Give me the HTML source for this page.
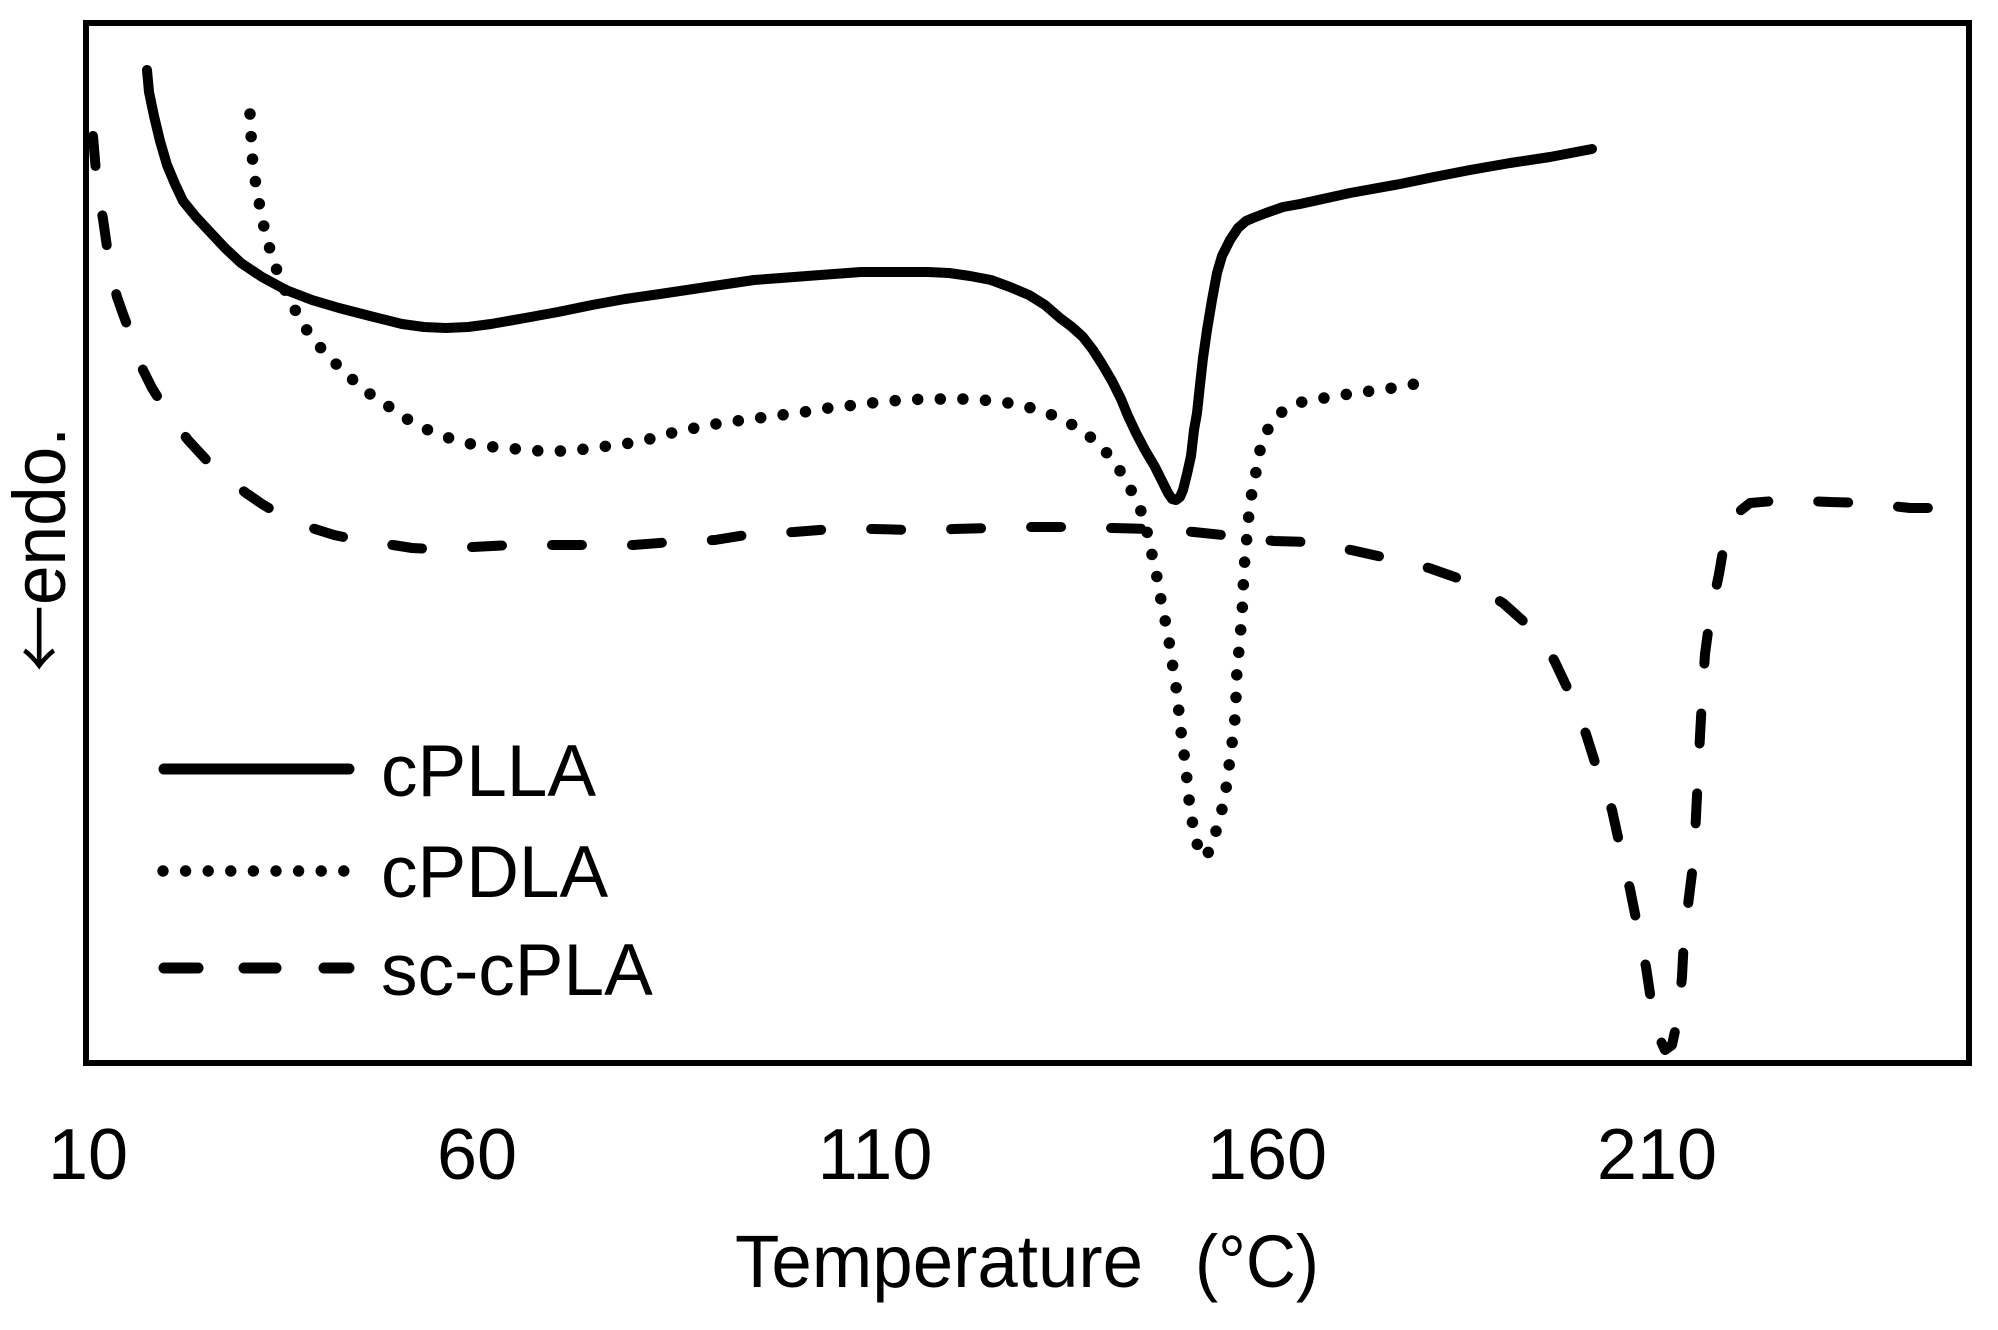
<!DOCTYPE html>
<html>
<head>
<meta charset="utf-8">
<style>
html,body{margin:0;padding:0;background:#fff;}
svg{display:block;}
text{font-family:"Liberation Sans","Noto Sans CJK JP",sans-serif;fill:#000;}
</style>
</head>
<body>
<svg width="1998" height="1330" viewBox="0 0 1998 1330" xmlns="http://www.w3.org/2000/svg">
<rect x="0" y="0" width="1998" height="1330" fill="#fff"/>
<!-- plot box -->
<rect x="86" y="23" width="1883" height="1040" fill="none" stroke="#000" stroke-width="6"/>

<!-- cPLLA solid -->
<polyline fill="none" stroke="#000" stroke-width="10" stroke-linecap="round" stroke-linejoin="round"
points="147,70 149,92 154,116 160,141 167,165 175,184 183,201 196,217 210,232 225,248 241,263 262,277 286,290 312,300 339,308 370,316 402,324 424,327 446,328 468,327 491,324 525,318 558,312 592,305 625,299 660,294 700,288 727,284 754,280 781,278 807,276 834,274 861,272 884,272 907,272 928,272 949,273 970,276 991,280 1010,287 1029,295 1045,305 1060,318 1072,327 1083,337 1093,350 1102,364 1112,381 1121,399 1128,416 1136,433 1145,450 1155,467 1162,481 1168,493 1172,499 1176,500 1180,497 1183,490 1187,474 1191,456 1194,430 1197,413 1200,385 1203,358 1207,330 1212,300 1217,273 1222,256 1230,240 1238,228 1246,221 1253,218 1266,213 1283,207 1300,204 1350,193 1400,184 1434,177 1470,170 1510,163 1550,157 1592,149"/>

<!-- cPDLA dotted -->
<polyline fill="none" stroke="#000" stroke-width="11.5" stroke-linecap="round" stroke-linejoin="round" stroke-dasharray="0 22.6"
points="250,114 251,134 252,155 255,179 259,202 263,223 269,246 276,268 284,288 294,308 306,329 320,347 336,364 352,379 370,394 388,406 407,419 428,430 449,438 471,444 494,447 517,449 540,451 563,451 586,449 608,446 631,443 654,438 675,432 700,427 721,423 744,420 766,417 789,414 811,411 834,407 857,405 879,402 903,400 926,399 948,399 971,399 994,401 1016,404 1039,410 1060,418 1080,429 1098,443 1113,460 1126,480 1136,500 1145,520 1149,543 1155,566 1159,589 1163,611 1168,633 1171,656 1175,679 1178,702 1180,724 1183,746 1186,769 1188,792 1191,814 1195,837 1199,850 1203,858 1208,853 1213,841 1220,818 1225,796 1228,774 1231,751 1234,729 1236,706 1236,684 1238,661 1240,638 1242,615 1243,592 1244,569 1246,547 1248,524 1250,502 1255,479 1258,457 1265,434 1277,415 1297,403 1318,399 1342,395 1363,392 1387,389 1408,385 1431,382"/>

<!-- sc-cPLA dashed -->
<polyline fill="none" stroke="#000" stroke-width="10" stroke-linecap="round" stroke-linejoin="round" stroke-dasharray="30 50"
points="93,136 96,172 99,196 103,219 108,254 112,276 117,297 123,314 129,330 136,350 143,370 152,388 162,404 175,423 188,440 200,453 212,466 229,480 246,493 262,504 277,513 296,522 315,529 334,535 353,539 373,543 393,545 412,548 431,549 452,548 473,547 513,545 553,545 592,545 634,545 672,542 715,540 752,534 794,532 832,529 874,529 912,530 954,529 993,528 1033,527 1073,527 1113,528 1152,529 1194,532 1232,536 1274,541 1307,542 1351,550 1391,559 1429,568 1466,581 1503,603 1531,628 1545,643 1555,662 1572,698 1586,734 1598,772 1605,790 1612,810 1621,851 1630,889 1638,929 1646,967 1652,1007 1658,1035 1665,1050 1672,1045 1678,1017 1682,977 1684,937 1689,897 1694,857 1696,816 1698,776 1700,736 1702,700 1705,654 1710,617 1719,574 1725,539 1735,515 1750,503 1785,500 1830,502 1865,503 1910,508 1946,508"/>

<!-- legend -->
<line x1="164" y1="769" x2="349" y2="769" stroke="#000" stroke-width="11" stroke-linecap="round"/>
<g fill="#000">
<circle cx="163" cy="871" r="5.7"/>
<circle cx="185.6" cy="871" r="5.7"/>
<circle cx="208.2" cy="871" r="5.7"/>
<circle cx="230.8" cy="871" r="5.7"/>
<circle cx="253.4" cy="871" r="5.7"/>
<circle cx="276" cy="871" r="5.7"/>
<circle cx="298.6" cy="871" r="5.7"/>
<circle cx="321.2" cy="871" r="5.7"/>
<circle cx="343.8" cy="871" r="5.7"/>
</g>
<line x1="164" y1="968" x2="198" y2="968" stroke="#000" stroke-width="11" stroke-linecap="round"/>
<line x1="244" y1="968" x2="276" y2="968" stroke="#000" stroke-width="11" stroke-linecap="round"/>
<line x1="324" y1="968" x2="349" y2="968" stroke="#000" stroke-width="11" stroke-linecap="round"/>

<text x="381" y="796" font-size="73">cPLLA</text>
<text x="381" y="897" font-size="73">cPDLA</text>
<text x="381" y="995" font-size="73">sc-cPLA</text>

<!-- x tick labels -->
<g font-size="72" text-anchor="middle">
<text x="88" y="1179">10</text>
<text x="477" y="1179">60</text>
<text x="875" y="1179">110</text>
<text x="1267" y="1179">160</text>
<text x="1657" y="1179">210</text>
</g>

<!-- x title -->
<text x="735" y="1287" font-size="74" textLength="408" lengthAdjust="spacingAndGlyphs">Temperature</text>
<text x="1195" y="1287" font-size="74" textLength="124" lengthAdjust="spacingAndGlyphs">(°C)</text>

<!-- y label -->
<text transform="translate(65,427) rotate(-90)" x="0" y="0" font-size="74" text-anchor="end" textLength="178" lengthAdjust="spacingAndGlyphs">endo.</text>
<text transform="translate(65,672) rotate(-90)" x="0" y="0" font-size="68" text-anchor="start" style="font-family:'Noto Sans CJK JP','Liberation Sans',sans-serif" textLength="67" lengthAdjust="spacingAndGlyphs">←</text>
</svg>
</body>
</html>
